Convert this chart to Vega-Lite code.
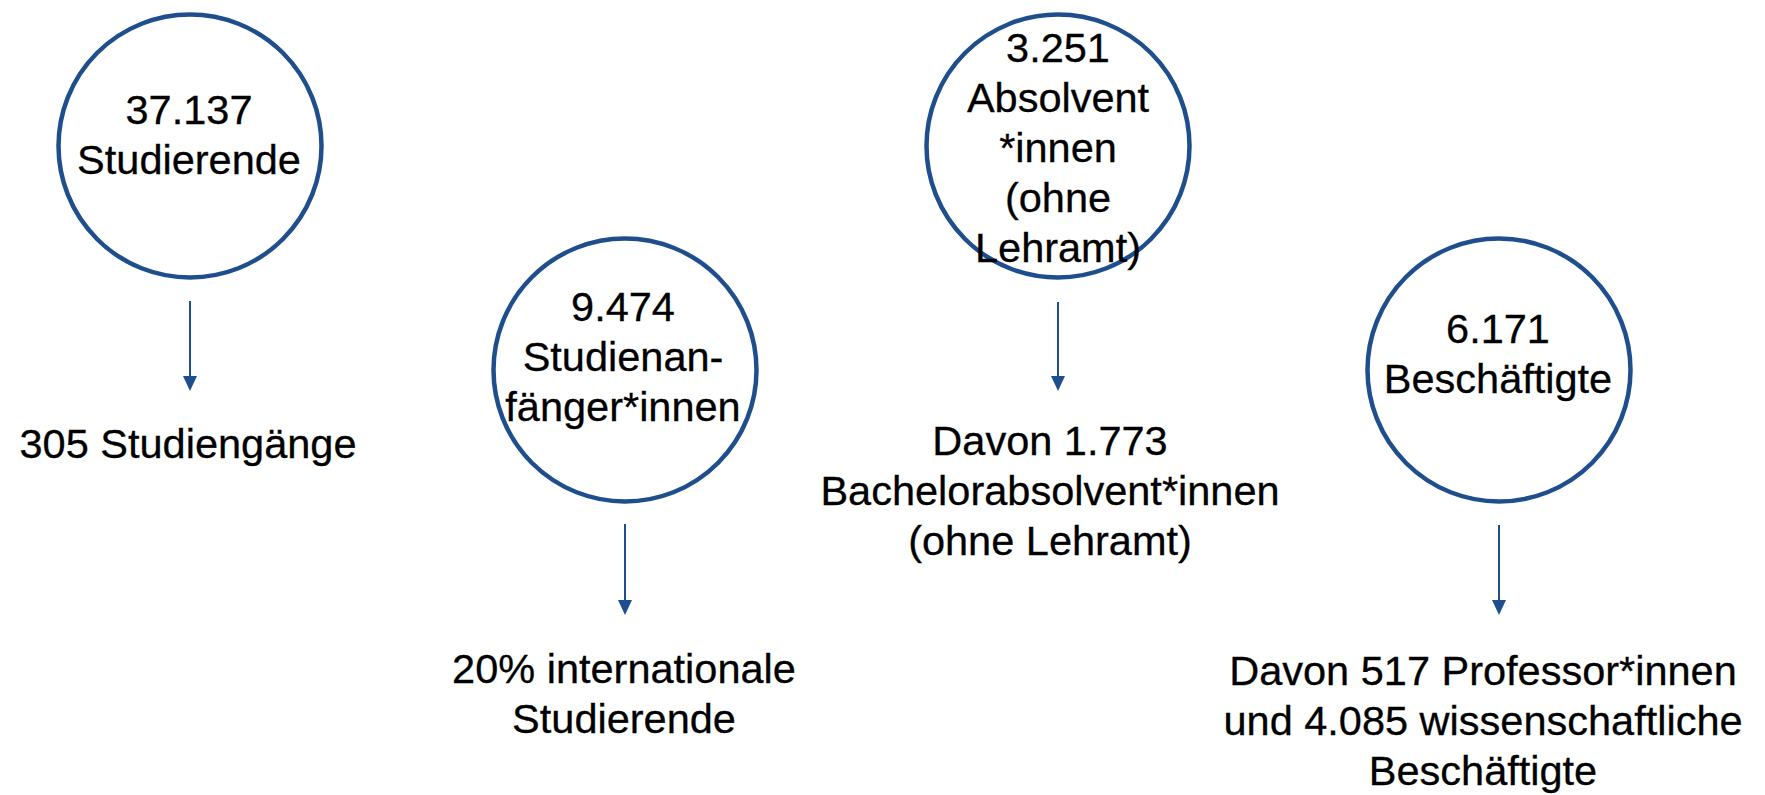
{
  "$schema": "https://vega.github.io/schema/vega-lite/v6.json",
  "width": 1765,
  "height": 795,
  "padding": 0,
  "autosize": {"type": "none"},
  "background": "white",
  "config": {"view": {"stroke": null}},
  "datasets": {
    "nodes": [
      {"id": "Studierende", "cx": 190, "cy": 146},
      {"id": "Studienanfänger*innen", "cx": 625, "cy": 370},
      {"id": "Absolvent*innen", "cx": 1058, "cy": 146},
      {"id": "Beschäftigte", "cx": 1499, "cy": 370}
    ],
    "arrows": [
      {"id": "Studierende", "ax": 190, "y_start": 301, "y_tip": 391},
      {"id": "Studienanfänger*innen", "ax": 625, "y_start": 524, "y_tip": 615},
      {"id": "Absolvent*innen", "ax": 1058, "y_start": 302, "y_tip": 391},
      {"id": "Beschäftigte", "ax": 1499, "y_start": 525, "y_tip": 615}
    ],
    "labels": [
      {"tx": 189, "ty": 124, "label": "37.137\nStudierende"},
      {"tx": 188, "ty": 458, "label": "305 Studiengänge"},
      {"tx": 623, "ty": 321, "label": "9.474\nStudienan-\nfänger*innen"},
      {"tx": 624, "ty": 683, "label": "20% internationale\nStudierende"},
      {"tx": 1058, "ty": 62, "label": "3.251\nAbsolvent\n*innen\n(ohne\nLehramt)"},
      {"tx": 1050, "ty": 455, "label": "Davon 1.773\nBachelorabsolvent*innen\n(ohne Lehramt)"},
      {"tx": 1498, "ty": 343, "label": "6.171\nBeschäftigte"},
      {"tx": 1483, "ty": 685, "label": "Davon 517 Professor*innen\nund 4.085 wissenschaftliche\nBeschäftigte"}
    ]
  },
  "layer": [
    {
      "data": {"name": "nodes"},
      "mark": {"type": "point", "shape": "circle", "filled": false, "stroke": "#1F4E8D", "strokeWidth": 4.5, "size": 69169, "opacity": 1},
      "encoding": {
        "x": {"field": "cx", "type": "quantitative", "scale": {"domain": [0, 1765], "nice": false, "zero": false}, "axis": null},
        "y": {"field": "cy", "type": "quantitative", "scale": {"domain": [0, 795], "nice": false, "zero": false, "reverse": true}, "axis": null}
      }
    },
    {
      "data": {"name": "arrows"},
      "mark": {"type": "rule", "stroke": "#1F4E8D", "strokeWidth": 2, "y2Offset": -6},
      "encoding": {
        "x": {"field": "ax", "type": "quantitative", "scale": {"domain": [0, 1765], "nice": false, "zero": false}, "axis": null},
        "y": {"field": "y_start", "type": "quantitative", "scale": {"domain": [0, 795], "nice": false, "zero": false, "reverse": true}, "axis": null},
        "y2": {"field": "y_tip"}
      }
    },
    {
      "data": {"name": "arrows"},
      "mark": {"type": "point", "shape": "M-0.933,-1L0.933,-1L0,1Z", "filled": true, "fill": "#1F4E8D", "strokeWidth": 0, "size": 225, "yOffset": -7.5, "opacity": 1},
      "encoding": {
        "x": {"field": "ax", "type": "quantitative", "scale": {"domain": [0, 1765], "nice": false, "zero": false}, "axis": null},
        "y": {"field": "y_tip", "type": "quantitative", "scale": {"domain": [0, 795], "nice": false, "zero": false, "reverse": true}, "axis": null}
      }
    },
    {
      "data": {"name": "labels"},
      "mark": {"type": "text", "font": "Liberation Sans", "fontSize": 41.5, "align": "center", "baseline": "alphabetic", "lineBreak": "\n", "lineHeight": 50, "fill": "#000000", "stroke": "#000000", "strokeWidth": 0.3},
      "encoding": {
        "x": {"field": "tx", "type": "quantitative", "scale": {"domain": [0, 1765], "nice": false, "zero": false}, "axis": null},
        "y": {"field": "ty", "type": "quantitative", "scale": {"domain": [0, 795], "nice": false, "zero": false, "reverse": true}, "axis": null},
        "text": {"field": "label", "type": "nominal"}
      }
    }
  ]
}
